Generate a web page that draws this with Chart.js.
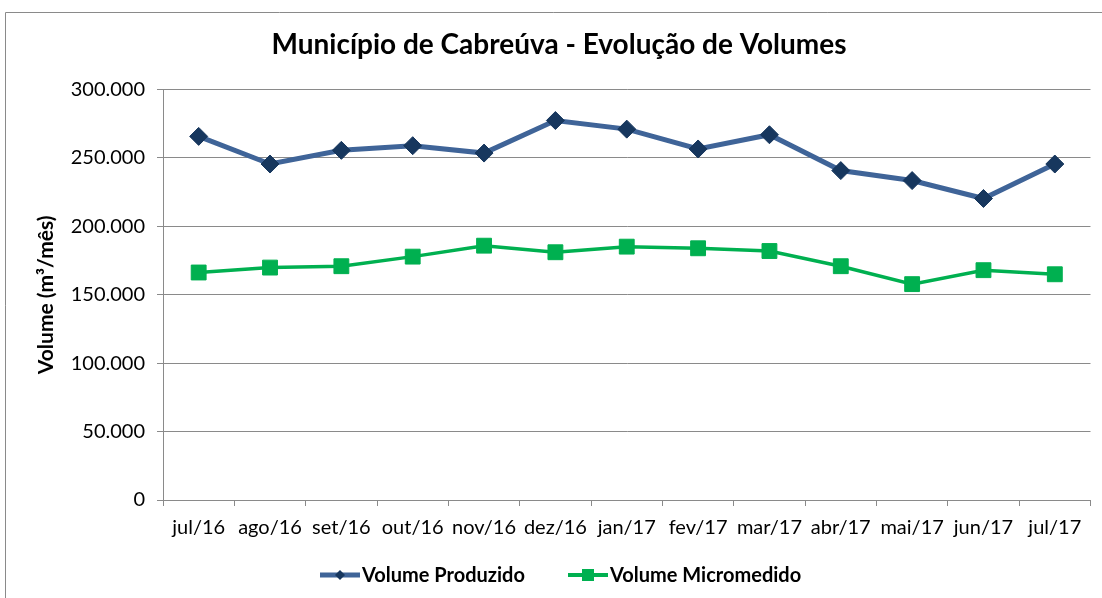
<!DOCTYPE html>
<html>
<head>
<meta charset="utf-8">
<script src="https://cdn.jsdelivr.net/npm/chart.js@4/dist/chart.umd.min.js"></script>
<style>
  html, body { margin: 0; padding: 0; background: #fff; }
  #wrap { width: 1102px; height: 598px; position: relative; }
</style>
</head>
<body>
<div id="wrap"><canvas id="volume-graph"></canvas></div>
<script>
const months = ['jul/16', 'ago/16', 'set/16', 'out/16', 'nov/16', 'dez/16', 'jan/17',
  'fev/17', 'mar/17', 'abr/17', 'mai/17', 'jun/17', 'jul/17'];

// volumes in m3/month
const produzido = [265800, 245600, 255600, 259000, 253600, 277400, 271100,
  256600, 267000, 240800, 233500, 220400, 245600];
const micromedido = [166300, 169900, 170900, 177900, 185900, 181100, 185200,
  184000, 182000, 170900, 157800, 168000, 165000];

const yTicks = [0, 50000, 100000, 150000, 200000, 250000, 300000];

const FONT = 'Lato, "Noto Sans", sans-serif';
const blueLine = '#3F6498';
const blueMark = '#17375E';
const green = '#00B050';

function fmt(v) {
  return String(v).replace(/\B(?=(\d{3})+(?!\d))/g, '.');
}

// grey frame around the chart (top and left edges)
const frame = {
  id: 'frame',
  beforeDraw(chart) {
    const c = chart.ctx;
    c.save();
    c.fillStyle = '#fff';
    c.fillRect(0, 0, chart.width, chart.height);
    c.strokeStyle = '#8a8a8a';
    c.lineWidth = 1;
    c.beginPath();
    c.moveTo(5.5, chart.height);
    c.lineTo(5.5, 12.5);
    c.lineTo(chart.width, 12.5);
    c.stroke();
    c.restore();
  }
};

// legend with line + marker, like the spreadsheet one
const lineLegend = {
  id: 'lineLegend',
  afterDraw(chart) {
    const c = chart.ctx;
    const y = 575;
    const items = [
      { x: 320, tx: 362, text: 'Volume Produzido', line: blueLine, mark: blueMark, lw: 5, shape: 'diamond' },
      { x: 568, tx: 610, text: 'Volume Micromedido', line: green, mark: green, lw: 4, shape: 'square' }
    ];
    c.save();
    c.font = 'bold 20px ' + FONT;
    c.textBaseline = 'middle';
    items.forEach(it => {
      c.strokeStyle = it.line;
      c.lineWidth = it.lw;
      c.beginPath();
      c.moveTo(it.x, y);
      c.lineTo(it.x + 40, y);
      c.stroke();
      c.fillStyle = it.mark;
      const cx = it.x + 20;
      c.beginPath();
      if (it.shape === 'diamond') {
        c.moveTo(cx, y - 5); c.lineTo(cx + 5, y); c.lineTo(cx, y + 5); c.lineTo(cx - 5, y);
      } else {
        c.rect(cx - 6, y - 6, 12, 12);
      }
      c.closePath();
      c.fill();
      c.fillStyle = '#000';
      c.fillText(it.text, it.tx, y + 1);
    });
    c.restore();
  }
};

const ctx = document.getElementById('volume-graph');

new Chart(ctx, {
  type: 'line',
  data: {
    labels: months,
    datasets: [{
      label: 'Volume Produzido',
      data: produzido,
      borderColor: blueLine,
      borderWidth: 5,
      pointStyle: 'rectRot',
      pointRadius: 9,
      pointHoverRadius: 9,
      pointBackgroundColor: blueMark,
      pointBorderColor: blueMark,
      pointBorderWidth: 1,
      tension: 0
    }, {
      label: 'Volume Micromedido',
      data: micromedido,
      borderColor: green,
      borderWidth: 3.5,
      pointStyle: 'rect',
      pointRadius: 10.5,
      pointHoverRadius: 10.5,
      pointBackgroundColor: green,
      pointBorderColor: green,
      pointBorderWidth: 1,
      tension: 0
    }]
  },
  options: {
    responsive: true,
    maintainAspectRatio: false,
    animation: false,
    layout: { padding: { left: 25, right: 9, top: 0, bottom: 40 } },
    plugins: {
      legend: { display: false },
      tooltip: { enabled: false },
      title: {
        display: true,
        text: 'Município de Cabreúva - Evolução de Volumes',
        color: '#000',
        font: { family: FONT, size: 28, weight: 'bold' },
        padding: { top: 28, bottom: 28 }
      }
    },
    scales: {
      x: {
        offset: true,
        grid: { display: true, offset: true, drawOnChartArea: false, color: '#8a8a8a', tickLength: 6 },
        border: { color: '#8a8a8a' },
        ticks: { color: '#000', font: { family: FONT, size: 20 }, padding: 10, maxRotation: 0, autoSkip: false },
        afterFit: s => { s.height = 58; }
      },
      y: {
        min: 0,
        max: 300000,
        afterBuildTicks: s => { s.ticks = yTicks.map(v => ({ value: v })); },
        afterFit: s => { s.width = 138; },
        grid: { color: '#8a8a8a', tickLength: 6 },
        border: { color: '#8a8a8a' },
        ticks: { color: '#000', font: { family: FONT, size: 20 }, padding: 12, callback: v => fmt(v) },
        title: {
          display: true,
          text: 'Volume (m³/mês)',
          color: '#000',
          font: { family: FONT, size: 21, weight: 'bold' },
          padding: { top: 9, bottom: 0 }
        }
      }
    }
  },
  plugins: [frame, lineLegend]
});
</script>
</body>
</html>
